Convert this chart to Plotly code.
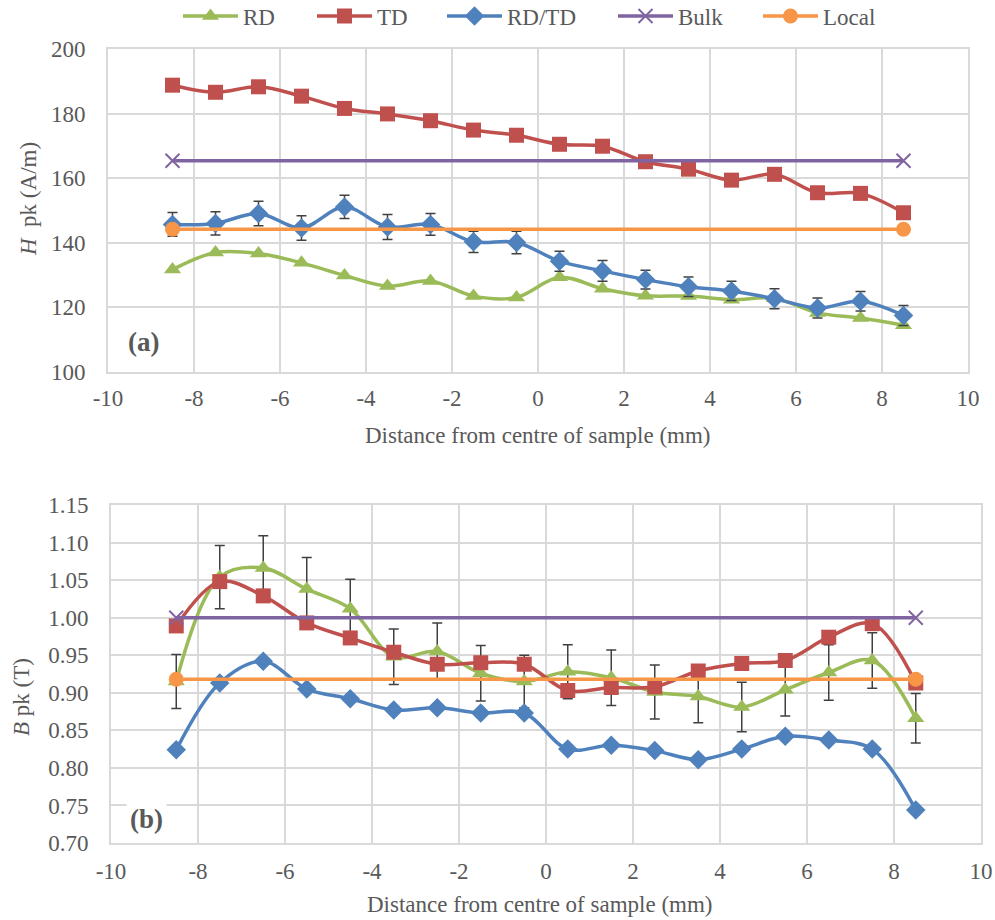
import plotly.graph_objects as go

x_pos = [-8.5, -7.5, -6.5, -5.5, -4.5, -3.5, -2.5, -1.5, -0.5, 0.5, 1.5, 2.5, 3.5, 4.5, 5.5, 6.5, 7.5, 8.5]
x_ends = [-8.5, 8.5]

# Panel (a): H pk (A/m)
H_RD = [131.7, 137.0, 136.7, 133.8, 129.9, 126.6, 128.2, 123.5, 123.1, 129.3, 125.8, 123.6, 123.5, 122.4, 122.8, 118.3, 116.7, 114.5]
H_TD = [188.8, 186.6, 188.3, 185.4, 181.6, 179.9, 177.8, 174.9, 173.3, 170.5, 169.9, 165.1, 162.8, 159.4, 161.2, 155.5, 155.3, 149.3]
H_RDTD = [145.7, 146.0, 149.1, 144.6, 151.1, 144.9, 145.7, 140.3, 140.1, 134.3, 131.3, 128.6, 126.4, 125.1, 122.7, 119.8, 121.9, 117.5]
H_RDTD_err = [3.7, 3.6, 3.8, 3.8, 3.6, 3.9, 3.4, 3.3, 3.5, 3.1, 3.2, 2.9, 3.0, 3.0, 3.1, 3.1, 3.0, 3.1]
H_Bulk = [165.4, 165.4]
H_Local = [144.2, 144.2]

# Panel (b): B pk (T)
B_RD = [0.915, 1.054, 1.066, 1.038, 1.012, 0.948, 0.955, 0.926, 0.915, 0.928, 0.920, 0.901, 0.895, 0.881, 0.904, 0.927, 0.943, 0.866]
B_RD_err = [0.036, 0.042, 0.043, 0.042, 0.039, 0.037, 0.038, 0.037, 0.035, 0.036, 0.037, 0.036, 0.035, 0.033, 0.035, 0.037, 0.037, 0.033]
B_TD = [0.989, 1.048, 1.029, 0.993, 0.973, 0.954, 0.938, 0.940, 0.938, 0.903, 0.907, 0.908, 0.929, 0.939, 0.943, 0.974, 0.992, 0.913]
B_RDTD = [0.824, 0.913, 0.942, 0.905, 0.892, 0.877, 0.880, 0.873, 0.873, 0.825, 0.830, 0.823, 0.811, 0.825, 0.842, 0.837, 0.825, 0.744]
B_Bulk = [1.000, 1.000]
B_Local = [0.918, 0.918]

x_ticks = [-10, -8, -6, -4, -2, 0, 2, 4, 6, 8, 10]
x_ticktext = ["-10", "-8", "-6", "-4", "-2", "0", "2", "4", "6", "8", "10"]
H_ticks = [100, 120, 140, 160, 180, 200]
B_ticks = [0.70, 0.75, 0.80, 0.85, 0.90, 0.95, 1.00, 1.05, 1.10, 1.15]

C_RD = "#9BBB59"
C_TD = "#C0504D"
C_RDTD = "#4F81BD"
C_BULK = "#8064A2"
C_LOCAL = "#F79646"
FONT = "Liberation Serif"
GRID = "#D9D9D9"
TXT = "#595959"
LW = 3.5
FS = 23

W, H = 995, 920

fig = go.Figure()

err_style = dict(type="data", color="#404040", thickness=1.5, width=5)

def add_panel(xa, ya, rd, td, rdtd, bulk, local, rd_err, rdtd_err, show):
    fig.add_trace(go.Scatter(x=x_pos, y=rd, name="RD", mode="lines+markers",
                             line=dict(color=C_RD, width=LW, shape="spline"),
                             marker=dict(symbol="triangle-up", size=15, color=C_RD),
                             error_y=(dict(array=rd_err, **err_style) if rd_err else None),
                             xaxis=xa, yaxis=ya, showlegend=show, legend="legend"))
    fig.add_trace(go.Scatter(x=x_pos, y=td, name="TD", mode="lines+markers",
                             line=dict(color=C_TD, width=LW, shape="spline"),
                             marker=dict(symbol="square", size=15, color=C_TD),
                             xaxis=xa, yaxis=ya, showlegend=show, legend="legend2"))
    fig.add_trace(go.Scatter(x=x_pos, y=rdtd, name="RD/TD", mode="lines+markers",
                             line=dict(color=C_RDTD, width=LW, shape="spline"),
                             marker=dict(symbol="diamond", size=15, color=C_RDTD),
                             error_y=(dict(array=rdtd_err, **err_style) if rdtd_err else None),
                             xaxis=xa, yaxis=ya, showlegend=show, legend="legend3"))
    fig.add_trace(go.Scatter(x=x_ends, y=bulk, name="Bulk", mode="lines+markers",
                             line=dict(color=C_BULK, width=LW),
                             marker=dict(symbol="x-thin", size=14, color=C_BULK,
                                         line=dict(color=C_BULK, width=2)),
                             xaxis=xa, yaxis=ya, showlegend=show, legend="legend4"))
    fig.add_trace(go.Scatter(x=x_ends, y=local, name="Local", mode="lines+markers",
                             line=dict(color=C_LOCAL, width=LW),
                             marker=dict(symbol="circle", size=15, color=C_LOCAL),
                             xaxis=xa, yaxis=ya, showlegend=show, legend="legend5"))

add_panel("x", "y", H_RD, H_TD, H_RDTD, H_Bulk, H_Local, None, H_RDTD_err, True)
add_panel("x2", "y2", B_RD, B_TD, B_RDTD, B_Bulk, B_Local, B_RD_err, None, False)

ax_common = dict(showgrid=True, gridcolor=GRID, gridwidth=1.5, zeroline=False,
                 showline=True, linecolor=GRID, linewidth=2, mirror=True, ticks="",
                 tickfont=dict(family=FONT, size=FS, color=TXT))

def leg(px):
    return dict(orientation="h", x=px / W, xanchor="left", y=1 - 16 / H, yanchor="middle",
                font=dict(family=FONT, size=FS, color=TXT), bgcolor="rgba(0,0,0,0)",
                itemwidth=55, borderwidth=0)

fig.update_layout(
    width=W, height=H,
    margin=dict(l=0, r=0, t=0, b=0, autoexpand=False),
    paper_bgcolor="white", plot_bgcolor="white",
    font=dict(family=FONT, size=FS, color=TXT),
    xaxis=dict(domain=[108 / W, 968 / W], range=[-10, 10], tickvals=x_ticks,
               ticktext=x_ticktext, anchor="y", ticklabelstandoff=4, **ax_common),
    yaxis=dict(domain=[1 - 372 / H, 1 - 49 / H], range=[100, 200], tickvals=H_ticks,
               anchor="x", ticklabelstandoff=16, **ax_common),
    xaxis2=dict(domain=[111 / W, 981 / W], range=[-10, 10], tickvals=x_ticks,
                ticktext=x_ticktext, anchor="y2", ticklabelstandoff=6, **ax_common),
    yaxis2=dict(domain=[1 - 843 / H, 1 - 505 / H], range=[0.70, 1.15], tickvals=B_ticks,
                tickformat=".2f", anchor="x2", ticklabelstandoff=16, **ax_common),
    legend=leg(178), legend2=leg(312), legend3=leg(442), legend4=leg(613), legend5=leg(758),
    annotations=[
        dict(text="<b>(a)</b>", x=143 / W, y=1 - 342 / H, xref="paper", yref="paper",
             xanchor="center", yanchor="middle",
             showarrow=False, font=dict(family=FONT, size=27, color="#595959")),
        dict(text="<b>(b)</b>", x=146 / W, y=1 - 819 / H, xref="paper", yref="paper",
             xanchor="center", yanchor="middle", borderpad=3,
             showarrow=False, bgcolor="white", font=dict(family=FONT, size=27, color="#595959")),
        dict(text="<i>H</i>  pk (A/m)", x=28 / W, y=1 - 199 / H, xref="paper", yref="paper",
             xanchor="center", yanchor="middle",
             textangle=-90, showarrow=False, font=dict(family=FONT, size=FS, color=TXT)),
        dict(text="<i>B</i> pk (T)", x=21 / W, y=1 - 697 / H, xref="paper", yref="paper",
             xanchor="center", yanchor="middle",
             textangle=-90, showarrow=False, font=dict(family=FONT, size=FS, color=TXT)),
        dict(text="Distance from centre of sample (mm)", x=538 / W, y=1 - 436 / H,
             xref="paper", yref="paper", showarrow=False, xanchor="center", yanchor="middle",
             font=dict(family=FONT, size=FS, color=TXT)),
        dict(text="Distance from centre of sample (mm)", x=540 / W, y=1 - 904 / H,
             xref="paper", yref="paper", showarrow=False, xanchor="center", yanchor="middle",
             font=dict(family=FONT, size=FS, color=TXT)),
    ],
)

fig.write_html("out.html")
